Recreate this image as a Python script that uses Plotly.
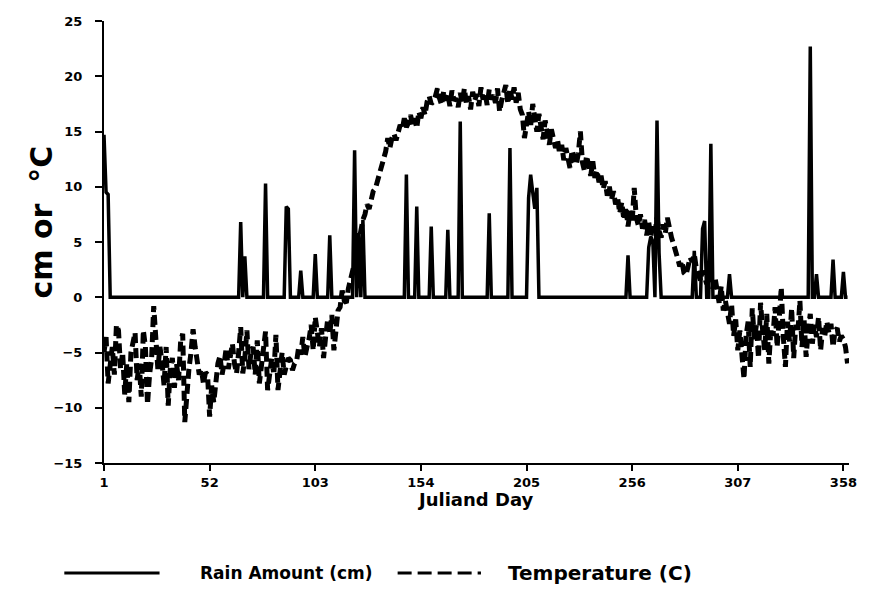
import plotly.graph_objects as go

# ---------------- data ----------------
rain_days = [1, 2, 3, 67, 69, 79, 89, 90, 96, 103, 110, 122, 124, 126, 147, 152, 159, 167,
             173, 187, 197, 206, 207, 208, 209, 210, 254, 264, 265, 266, 268, 269, 286,
             290, 291, 294, 303, 342, 345, 353, 358]
rain_cm = [14.7, 9.5, 9.3, 6.8, 3.7, 10.3, 8.2, 8.0, 2.4, 3.9, 5.6, 13.3, 5.8, 7.0, 11.1,
           8.2, 6.4, 6.1, 15.9, 7.6, 13.5, 9.0, 11.1, 9.5, 8.0, 9.9, 3.8, 4.5, 5.5, 5.0,
           16.0, 4.0, 4.2, 6.2, 6.9, 13.9, 2.1, 22.7, 2.1, 3.4, 2.3]

temp_c = [
    -5, -3.6, -7.8, -6, -4.5, -7, -2.5, -3, -6.5, -5,
    -8.8, -6, -9.5, -5, -4, -3.2, -7.5, -6, -9, -3,
    -4.5, -9.7, -7, -5.5, -0.8, -3, -6.5, -4.5, -5.8, -8,
    -4.5, -9.8, -6.5, -5.5, -8.2, -6, -7.5, -4, -3.3, -11.3,
    -8, -6.5, -5, -2.9, -4.5, -5.8, -7, -6.5, -7.8, -6.8,
    -7, -10.8, -8, -9.5, -7.2, -6, -5.3, -7, -6, -4.6,
    -6.5, -5.5, -4.2, -6, -6.9, -5, -2.7, -6.9, -5.5, -3,
    -6.5, -5, -4.5, -7, -3.9, -7.8, -6, -5, -3.1, -8.4,
    -6.5, -5.5, -7, -3.4, -8.4, -6.5, -5, -7, -6.2, -5.5,
    -5.7, -6.6, -6, -5.8, -4.5, -5.2, -3.6, -5.4, -4.5, -3.8,
    -2.5, -4.8, -1.8, -3.5, -4.5, -2.8, -5.5, -3.6, -2, -3.3,
    -1.6, -4.8, -3, -1.2, -0.9, 0.6, -0.3, -0.5, 0.8, 1.5,
    2.5, 3.2, 3.9, 5, 6.2, 7.0, 7.5, 8.4, 8.0, 9.0,
    9.6, 9.8, 10.5, 11.2, 12.0, 12.6, 13.2, 14.4, 13.5, 14.4,
    14.8, 14.2, 15.0, 15.6, 15.2, 16.2, 15.4, 15.8, 16.5, 15.6,
    16.2, 15.3, 16.8, 16.2, 17.2, 16.5, 17.7, 18.2, 17.5, 17.7,
    18.2, 18.9, 18.0, 17.4, 18.6, 17.8, 18.4, 17.3, 18.7, 17.8,
    18.0, 17.2, 18.5, 17.6, 18.9, 17.5, 18.2, 17.0, 18.6, 17.8,
    18.4, 17.3, 19.0, 17.9, 18.5, 17.4, 18.8, 17.9, 18.3, 17.6,
    18.9, 16.8, 17.8, 18.6, 19.2, 17.5, 18.9, 17.9, 19.0, 17.6,
    18.5, 17.0, 16.5, 14.4, 15.8, 16.8, 15.5, 17.5, 16.2, 15.0,
    16.6, 15.2, 14.3, 16.0, 15.0, 13.8, 15.2, 14.1, 13.5, 14.2,
    13.0, 13.8, 12.4, 13.5, 12.8, 11.7, 13.3, 12.5, 12.0, 13.0,
    15.0, 12.2, 11.4, 12.8, 11.8, 11.0, 12.3, 10.8, 11.5, 10.4,
    11.0, 9.8, 10.5, 9.2, 10.0, 8.8, 9.6, 8.4, 9.0, 7.6,
    8.6, 7.0, 8.2, 6.4, 7.8, 6.8, 9.9, 7.2, 6.5, 7.5,
    6.2, 7.0, 5.6, 6.8, 5.5, 6.4, 5.8, 7.2, 6.0, 5.4,
    6.6, 5.8, 7.2, 6.0, 5.4, 4.8, 4.3, 3.5, 2.8, 3.3,
    2.2, 2.0, 2.8, 3.6, 3.2, 3.9, 2.6, 2.0, 1.5, 2.4,
    1.8, 1.2, 2.2, 1.5, 0.8, 1.8, 0.5, -0.5, 1.0, -1.2,
    -0.3, -1.5, -2.4, -0.6, -3.5, -2.0, -4.8, -3.0, -5.5, -7.4,
    -3.5, -2.2, -6.3, -1.0, -3.8, -2.5, -5.5, -0.5, -3.0, -4.8,
    -1.5, -6.0, -2.8, -3.5, -0.9, -4.5, -2.0, 0.9, -3.6, -6.3,
    -2.2, -4.0, -1.0, -5.5, -2.5, -3.2, -0.3, -4.5, -2.0, -5.4,
    -3.0, -1.5, -4.2, -2.5, -3.6, -1.8, -4.8, -2.8, -3.5, -2.2,
    -3.2, -2.4, -4.5, -3.0, -2.8, -4.0, -3.5, -3.8, -4.5, -6.0,
]

x_ticks = [1, 52, 103, 154, 205, 256, 307, 358]
y_ticks = [-15, -10, -5, 0, 5, 10, 15, 20, 25]

# build daily series
days = list(range(1, len(temp_c) + 1))
rain_lookup = dict(zip(rain_days, rain_cm))
rain_daily = [rain_lookup.get(d, 0.0) for d in days]

FONT = "DejaVu Sans, Liberation Sans, Arial, sans-serif"

fig = go.Figure()
fig.add_trace(go.Scatter(x=days, y=rain_daily, mode="lines", name="Rain Amount (cm)",
                         line=dict(color="black", width=3.5), showlegend=False))
fig.add_trace(go.Scatter(x=days, y=temp_c, mode="lines", name="Temperature (C)",
                         line=dict(color="black", width=5, dash="10px,5px"),
                         showlegend=False))

W, H = 869, 610
L, R, T, B = 104, 14, 21, 147
pw, ph = W - L - R, H - T - B

def px(xp):
    return (xp - L) / pw

def py(yp):
    return (H - B - yp) / ph

fig.update_layout(
    width=W, height=H,
    margin=dict(l=L, r=R, t=T, b=B),
    plot_bgcolor="white", paper_bgcolor="white",
    font=dict(family=FONT, color="black"),
    xaxis=dict(range=[1, 360.7], tickmode="array", tickvals=x_ticks,
               ticktext=[str(v) for v in x_ticks],
               showgrid=False, zeroline=False, showline=True, linecolor="black",
               linewidth=2, ticks="outside", ticklen=6, tickwidth=1.5, tickcolor="black",
               tickfont=dict(size=13, family=FONT, weight="bold"), ticklabelstandoff=0),
    yaxis=dict(range=[-15, 25], tickmode="array", tickvals=y_ticks,
               showgrid=False, zeroline=False, showline=True, linecolor="black",
               linewidth=2, ticks="outside", ticklen=7, tickwidth=1.5, tickcolor="black",
               tickfont=dict(size=13, family=FONT, weight="bold"), ticklabelstandoff=10),
)

annotations = [
    dict(text="cm or  °C", x=px(40), y=py(222), xref="paper", yref="paper",
         textangle=-90, showarrow=False, font=dict(size=30, family=FONT, weight="bold"),
         xanchor="center", yanchor="middle"),
    dict(text="Juliand Day", x=px(478), y=py(500), xref="paper", yref="paper",
         showarrow=False, font=dict(size=18, family=FONT, weight="bold"),
         xanchor="center", yanchor="middle", borderpad=0),
    dict(text="Rain Amount (cm)", x=px(199), y=py(573), xref="paper", yref="paper",
         showarrow=False, font=dict(size=17, family=FONT, weight="bold"),
         xanchor="left", yanchor="middle"),
    dict(text="Temperature (C)", x=px(509), y=py(573), xref="paper", yref="paper",
         showarrow=False, font=dict(size=20, family=FONT, weight="bold"),
         xanchor="left", yanchor="middle"),
]
fig.update_layout(annotations=annotations)

shapes = [
    dict(type="line", xref="paper", yref="paper", x0=px(64), x1=px(160),
         y0=py(573), y1=py(573), line=dict(color="black", width=3)),
    dict(type="line", xref="paper", yref="paper", x0=px(400), x1=px(484),
         y0=py(573), y1=py(573), line=dict(color="black", width=3, dash="14px,6px")),
]
fig.update_layout(shapes=shapes)

fig.write_html("out.html")
